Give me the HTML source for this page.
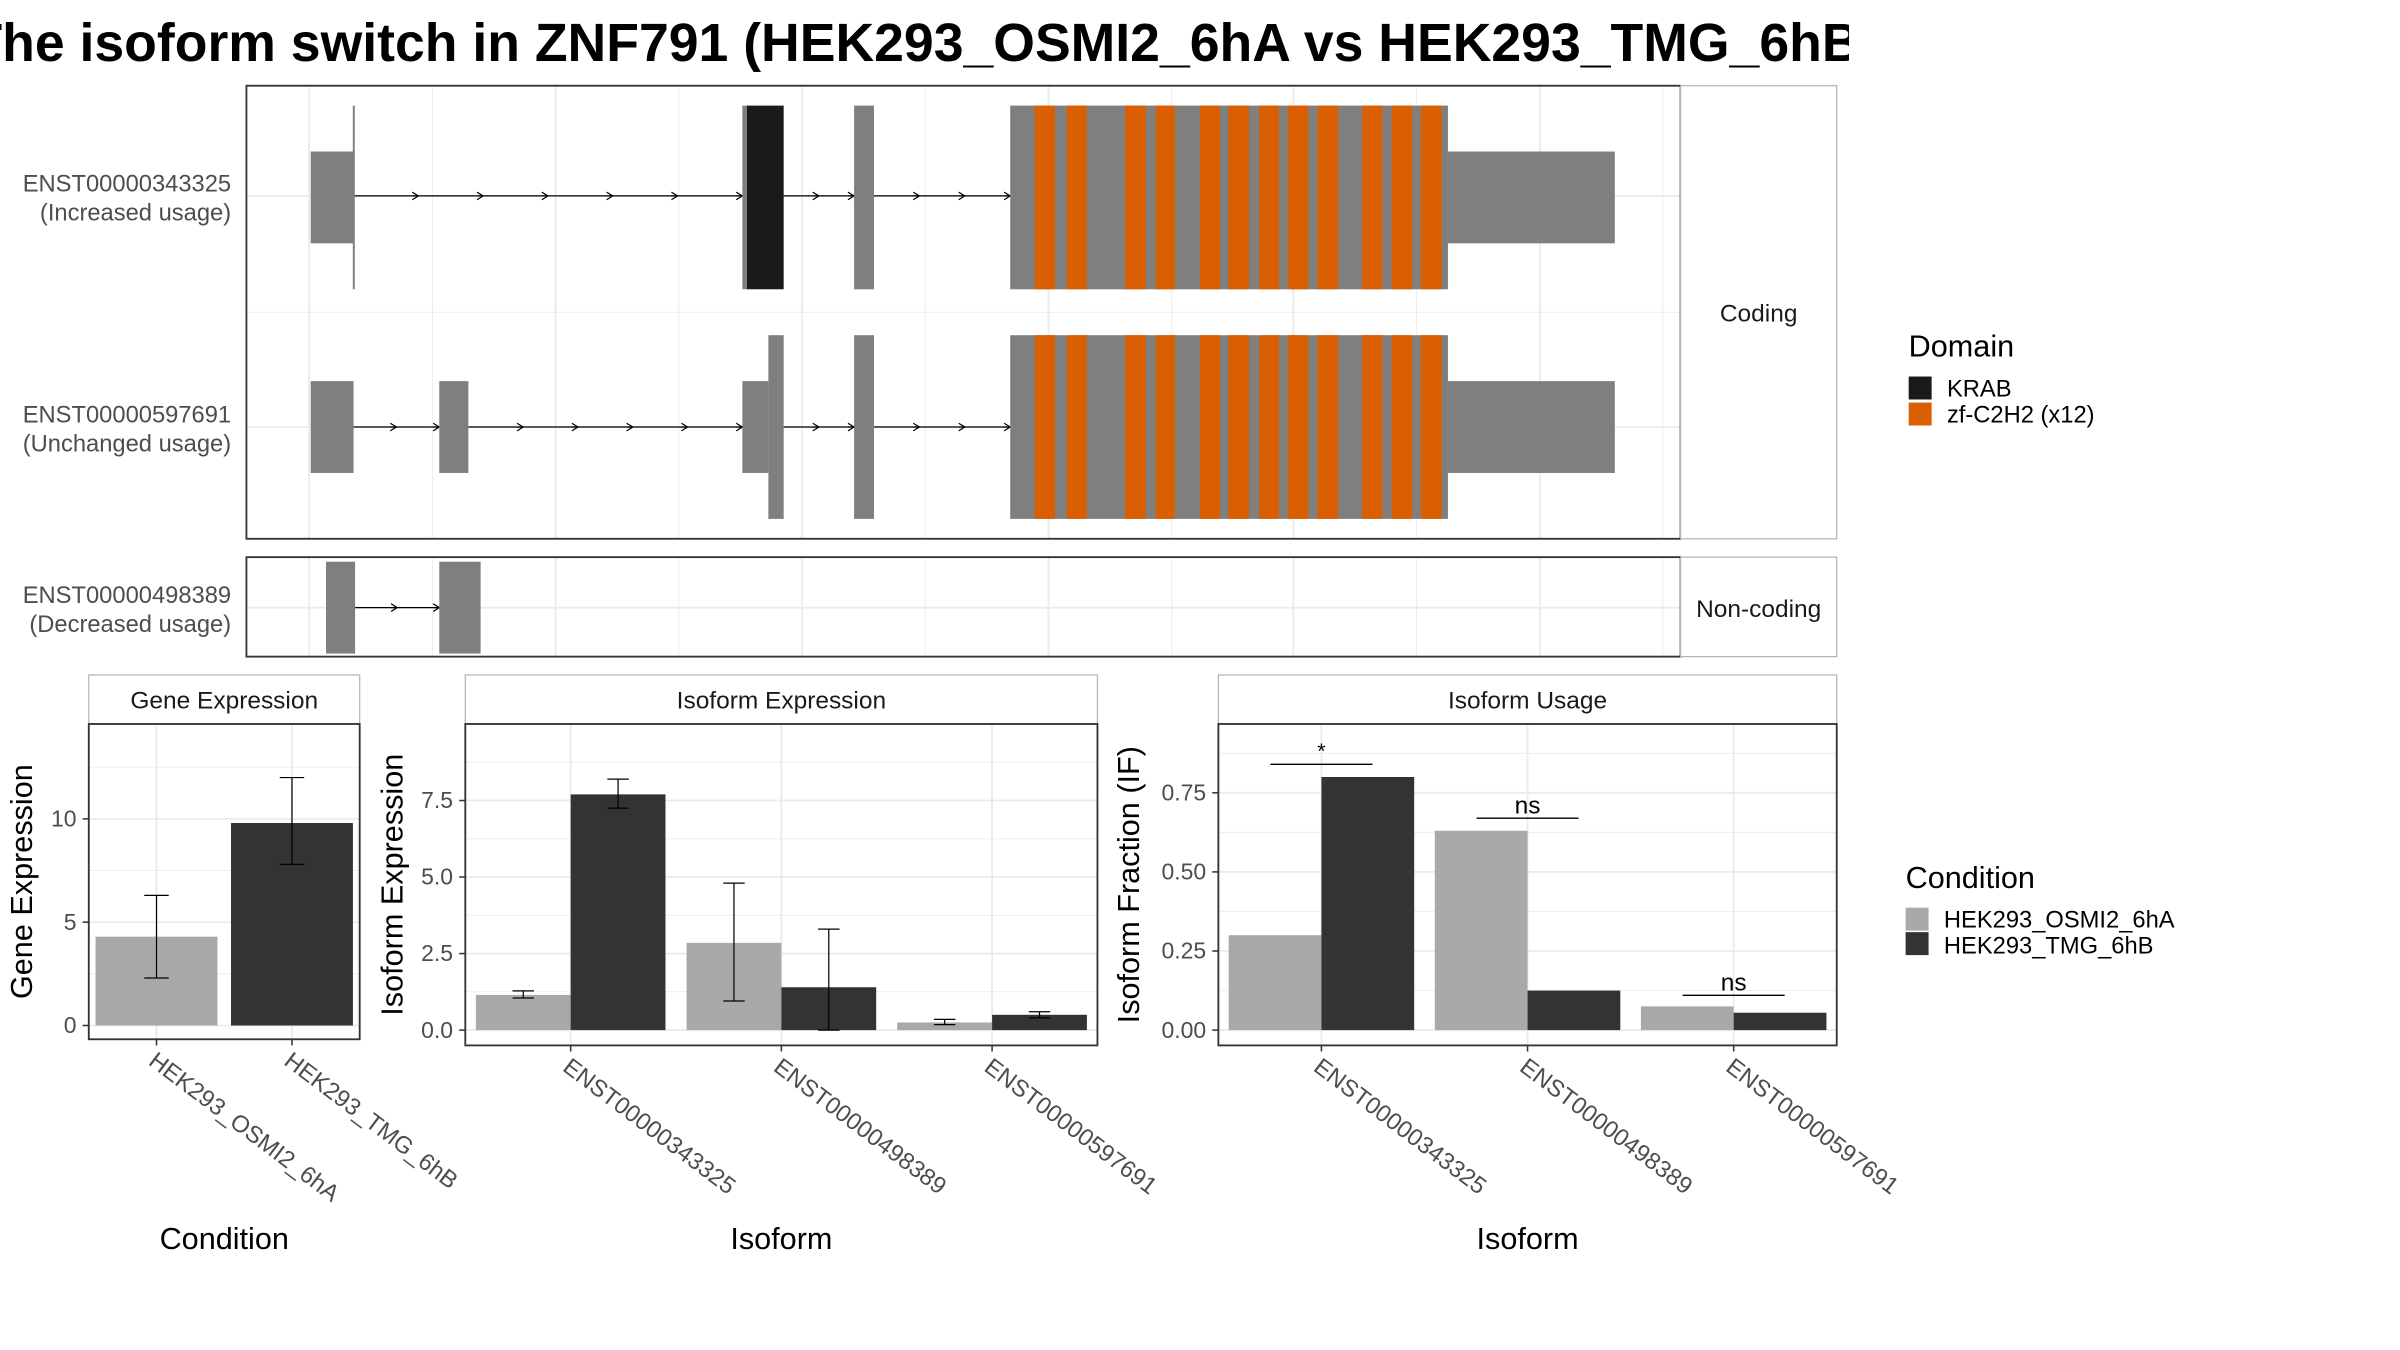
<!DOCTYPE html>
<html><head><meta charset="utf-8">
<style>
html,body{margin:0;padding:0;background:#fff;}
svg{display:block;font-family:"Liberation Sans",Arial,sans-serif;}
</style></head>
<body>
<svg id="chart" width="2400" height="1350" viewBox="0 0 1568 882" preserveAspectRatio="none" xmlns="http://www.w3.org/2000/svg">
<defs>
<clipPath id="titleclip"><rect x="0" y="0" width="1208" height="60"/></clipPath>
<marker id="arr" markerWidth="6" markerHeight="6" refX="5" refY="3" orient="auto" markerUnits="userSpaceOnUse"><path d="M1,0.5 L5,3 L1,5.5" fill="none" stroke="#000" stroke-width="0.8"/></marker>
</defs>
<g clip-path="url(#titleclip)"><text x="-20" y="40" font-size="35" font-weight="bold" fill="#000">The isoform switch in ZNF791 (HEK293_OSMI2_6hA vs HEK293_TMG_6hB)</text></g>
<g id="g"></g>
</svg>
<script>
// ---------- data ----------
var geneConds = ["HEK293_OSMI2_6hA","HEK293_TMG_6hB"];
var geneVals = [4.3, 9.8];
var geneLo = [2.3, 7.8];
var geneHi = [6.3, 12.0];
var geneTicks = [0,5,10];

var isoforms = ["ENST00000343325","ENST00000498389","ENST00000597691"];
var isoExpA = [1.15, 2.85, 0.25];
var isoExpB = [7.7, 1.4, 0.5];
var isoExpALo = [1.05, 0.95, 0.18], isoExpAHi = [1.28, 4.8, 0.35];
var isoExpBLo = [7.25, 0.0, 0.4], isoExpBHi = [8.2, 3.3, 0.6];
var isoExpTicks = ["0.0","2.5","5.0","7.5"];

var ifA = [0.30, 0.63, 0.075];
var ifB = [0.80, 0.125, 0.055];
var ifTicks = ["0.00","0.25","0.50","0.75"];
var sigLabels = ["*","ns","ns"];
var sigY = [0.84, 0.67, 0.11];

// transcript structure (genomic display coordinates, arbitrary units)
var zfStarts = [676,697,735,755,784,802.5,822.6,841.3,860.7,890,909.2,928.2];
var zfEnds   = [689.3,710,748.7,767.7,797.1,816,835.6,854.8,874.4,903.1,922.7,941.9];

var svg = document.getElementById('g');
var NS = "http://www.w3.org/2000/svg";
function el(tag, attrs, parent, txt){
  var e = document.createElementNS(NS, tag);
  for (var k in attrs) e.setAttribute(k, attrs[k]);
  if (txt !== undefined) e.textContent = txt;
  (parent||svg).appendChild(e);
  return e;
}
var GRID="#ebebeb", LIGHT="#a9a9a9", DARK="#333333", EX="#7f7f7f", ORANGE="#d95f02", TXT="#4d4d4d";

// ---------- transcript panels ----------
function rect(x1,y1,x2,y2,fill,name){
  var r = el('rect',{x:x1,y:y1,width:x2-x1,height:y2-y1,fill:fill});
  
  
  return r;
}
// panel 1 bg grid
var vgrid=[202,282.5,363,443.5,524,604.5,685,765.5,845,925.5,1006,1086.5];
vgrid.forEach(function(x,i){el('line',{x1:x,y1:56,x2:x,y2:352,stroke:GRID,'stroke-width':i%2?0.6:1.2});
  el('line',{x1:x,y1:364,x2:x,y2:429,stroke:GRID,'stroke-width':i%2?0.6:1.2});});
[128,279].forEach(function(y){el('line',{x1:161,y1:y,x2:1098,y2:y,stroke:GRID,'stroke-width':1.2});});
el('line',{x1:161,y1:204,x2:1098,y2:204,stroke:GRID,'stroke-width':0.6});
el('line',{x1:161,y1:397,x2:1098,y2:397,stroke:GRID,'stroke-width':1.2});

function intron(x1,x2,y,n){
  el('line',{x1:x1,y1:y,x2:x2,y2:y,stroke:'#000','stroke-width':0.8});
  for(var i=1;i<=n;i++){var x=x1+(x2-x1)*i/n; el('line',{x1:x-4,y1:y,x2:x,y2:y,stroke:'#000','stroke-width':0.8,'marker-end':'url(#arr)'});}
}
// row 1
intron(231,485,128,6); intron(512,558,128,2); intron(571,660,128,3);
rect(203,99,231,159,EX,'exon-utr-343325-1');
rect(230.5,69,231.8,189,EX,'cds-start-343325');
rect(485,69,488,189,EX,'exon-343325-2');
rect(488,69,512,189,'#1a1a1a','krab-domain-343325');
rect(558,69,571,189,EX,'exon-343325-3');
rect(660,69,946,189,EX,'exon-343325-4');
rect(946,99,1055,159,EX,'utr-343325-3prime');
// row 2
intron(231,287,279,2); intron(306,485,279,5); intron(512,558,279,2); intron(571,660,279,3);
rect(203,249,231,309,EX,'exon-597691-1');
rect(287,249,306,309,EX,'exon-597691-2');
rect(485,249,502,309,EX,'exon-597691-3-utr');
rect(502,219,512,339,EX,'exon-597691-3-cds');
rect(558,219,571,339,EX,'exon-597691-4');
rect(660,219,946,339,EX,'exon-597691-5');
rect(946,249,1055,309,EX,'utr-597691-3prime');
[69,219].forEach(function(y0,row){
  zfStarts.forEach(function(s,i){
    var r=rect(s,y0,zfEnds[i],y0+120,ORANGE,'zf-c2h2-domain');
  });
});
// row 3
intron(232,287,397,2);
rect(213,367,232,427,EX,'exon-498389-1');
rect(287,367,314,427,EX,'exon-498389-2');
// panel borders & strips
el('rect',{x:161,y:56,width:937,height:296,fill:'none',stroke:'#333','stroke-width':1.2});
el('rect',{x:161,y:364,width:937,height:65,fill:'none',stroke:'#333','stroke-width':1.2});
el('rect',{x:1098,y:56,width:102,height:296,fill:'#fff',stroke:'#b3b3b3','stroke-width':0.8});
el('rect',{x:1098,y:364,width:102,height:65,fill:'#fff',stroke:'#b3b3b3','stroke-width':0.8});
var t;
t=el('text',{x:1149,y:210,'font-size':16,'text-anchor':'middle',fill:'#1a1a1a'},null,'Coding');
t=el('text',{x:1149,y:403,'font-size':16,'text-anchor':'middle',fill:'#1a1a1a'},null,'Non-coding');
var rowLab=[["ENST00000343325","(Increased usage)",128],["ENST00000597691","(Unchanged usage)",279],["ENST00000498389","(Decreased usage)",397]];
rowLab.forEach(function(r){
  t=el('text',{x:151,y:r[2]-3,'font-size':15.5,'text-anchor':'end',fill:TXT},null,r[0]);
  t=el('text',{x:151,y:r[2]+16,'font-size':15.5,'text-anchor':'end',fill:TXT},null,r[1]);
});
// domain legend
t=el('text',{x:1247,y:233,'font-size':20,fill:'#000'},null,'Domain');
rect(1247,246,1262,261,'#1a1a1a','legend-key-krab');
rect(1247,263,1262,278,ORANGE,'legend-key-zf');
t=el('text',{x:1272,y:259,'font-size':15.5,fill:'#000'},null,'KRAB');
t=el('text',{x:1272,y:276,'font-size':15.5,fill:'#000'},null,'zf-C2H2 (x12)');

// ---------- bar panels ----------
function panel(o){
  // o: x1,x2,y1,y2,strip,title, y0px, pxPerUnit, ticks(numeric), tickLabels, cats
  el('rect',{x:o.x1,y:441,width:o.x2-o.x1,height:32,fill:'#fff',stroke:'#b3b3b3','stroke-width':0.8});
  t=el('text',{x:(o.x1+o.x2)/2,y:463,'font-size':16,'text-anchor':'middle',fill:'#1a1a1a'},null,o.strip);
  
  function Y(v){return o.y0 - v*o.ppu;}
  // grid
  for(var i=0;i<o.ticks.length;i++){
    var yv=Y(o.ticks[i]);
    el('line',{x1:o.x1,y1:yv,x2:o.x2,y2:yv,stroke:GRID,'stroke-width':1.2});
    var ym=Y(o.ticks[i]+o.step/2); if(ym>o.y1) el('line',{x1:o.x1,y1:ym,x2:o.x2,y2:ym,stroke:GRID,'stroke-width':0.6});
    t=el('text',{x:o.x1-8,y:yv+5,'font-size':15,'text-anchor':'end',fill:TXT},null,o.tickLabels[i]);
    
    el('line',{x1:o.x1-4,y1:yv,x2:o.x1,y2:yv,stroke:'#333','stroke-width':1});
  }
  var n=o.cats.length, bw=(o.x2-o.x1)/n;
  function X(i){return o.x1+bw*(i+0.5);}
  o.cats.forEach(function(c,i){
    el('line',{x1:X(i),y1:o.y1,x2:X(i),y2:o.y2,stroke:GRID,'stroke-width':1.2});
    el('line',{x1:X(i),y1:o.y2,x2:X(i),y2:o.y2+4,stroke:'#333','stroke-width':1});
    var lx=X(i)-6, ly=o.y2+16;
    t=el('text',{x:lx,y:ly,'font-size':15.5,fill:TXT,transform:'rotate(37 '+lx+' '+ly+')'},null,c);
    
  });
  o.draw(X,Y,bw);
  el('rect',{x:o.x1,y:o.y1,width:o.x2-o.x1,height:o.y2-o.y1,fill:'none',stroke:'#333','stroke-width':1.2});
  t=el('text',{x:(o.x1+o.x2)/2,y:816,'font-size':20,'text-anchor':'middle',fill:'#000'},null,o.xt);
  
  var cy=(o.y1+o.y2)/2;
  t=el('text',{x:o.ytx,y:cy,'font-size':20,'text-anchor':'middle',fill:'#000',transform:'rotate(-90 '+o.ytx+' '+cy+')'},null,o.yt);
  
}
function bar(x1,x2,yTop,yBase,fill,name){
  var r=el('rect',{x:x1,y:yTop,width:x2-x1,height:yBase-yTop,fill:fill});
  
  
}
function err(x,yl,yh,w){
  el('line',{x1:x,y1:yl,x2:x,y2:yh,stroke:'#000','stroke-width':0.8});
  el('line',{x1:x-w,y1:yl,x2:x+w,y2:yl,stroke:'#000','stroke-width':0.8});
  el('line',{x1:x-w,y1:yh,x2:x+w,y2:yh,stroke:'#000','stroke-width':0.8});
}
panel({name:'gene-expression',x1:58,x2:235,y1:473,y2:679,strip:'Gene Expression',y0:670,ppu:13.5,step:5,
  ticks:geneTicks,tickLabels:geneTicks.map(String),cats:geneConds,xt:'Condition',yt:'Gene Expression',ytx:21,
  draw:function(X,Y,bw){
    geneVals.forEach(function(v,i){
      bar(X(i)-bw*0.45,X(i)+bw*0.45,Y(v),Y(0),i?DARK:LIGHT,'bar-gene-'+geneConds[i]);
      err(X(i),Y(geneLo[i]),Y(geneHi[i]),8);
    });
  }});
panel({name:'isoform-expression',x1:304,x2:717,y1:473,y2:683,strip:'Isoform Expression',y0:673,ppu:20,step:2.5,
  ticks:[0,2.5,5,7.5],tickLabels:isoExpTicks,cats:isoforms,xt:'Isoform',yt:'Isoform Expression',ytx:263,
  draw:function(X,Y,bw){
    var hw=bw*0.45;
    isoforms.forEach(function(c,i){
      bar(X(i)-hw,X(i),Y(isoExpA[i]),Y(0),LIGHT,'bar-isoexp-a-'+c);
      bar(X(i),X(i)+hw,Y(isoExpB[i]),Y(0),DARK,'bar-isoexp-b-'+c);
      err(X(i)-hw/2,Y(isoExpALo[i]),Y(isoExpAHi[i]),7);
      err(X(i)+hw/2,Y(isoExpBLo[i]),Y(isoExpBHi[i]),7);
    });
  }});
panel({name:'isoform-usage',x1:796,x2:1200,y1:473,y2:683,strip:'Isoform Usage',y0:673,ppu:206.7,step:0.25,
  ticks:[0,0.25,0.5,0.75],tickLabels:ifTicks,cats:isoforms,xt:'Isoform',yt:'Isoform Fraction (IF)',ytx:744,
  draw:function(X,Y,bw){
    var hw=bw*0.45;
    isoforms.forEach(function(c,i){
      bar(X(i)-hw,X(i),Y(ifA[i]),Y(0),LIGHT,'bar-if-a-'+c);
      bar(X(i),X(i)+hw,Y(ifB[i]),Y(0),DARK,'bar-if-b-'+c);
      var sy=Y(sigY[i]);
      el('line',{x1:X(i)-hw*0.55,y1:sy,x2:X(i)+hw*0.55,y2:sy,stroke:'#000','stroke-width':0.9});
      t=el('text',{x:X(i),y:sy-(sigLabels[i]=='*'?4:3),'font-size':sigLabels[i]=='*'?14:16,'text-anchor':'middle',fill:'#000'},null,sigLabels[i]);
      
    });
  }});
// condition legend
t=el('text',{x:1245,y:580,'font-size':20,fill:'#000'},null,'Condition');
rect(1245,593,1260,608,LIGHT,'legend-key-osmi2');
rect(1245,609,1260,624,DARK,'legend-key-tmg');
t=el('text',{x:1270,y:606,'font-size':15.5,fill:'#000'},null,'HEK293_OSMI2_6hA');
t=el('text',{x:1270,y:623,'font-size':15.5,fill:'#000'},null,'HEK293_TMG_6hB');
</script>
</body></html>
